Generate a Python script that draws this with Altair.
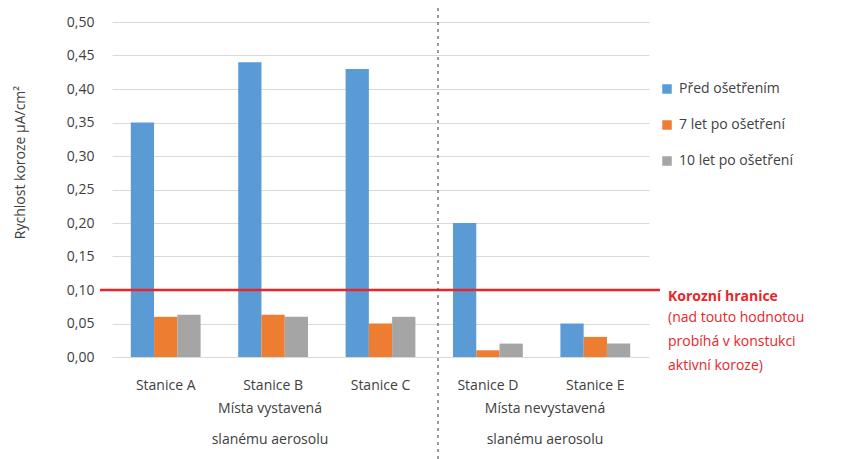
import altair as alt
import pandas as pd

stations = ["Stanice A", "Stanice B", "Stanice C", "Stanice D", "Stanice E"]
series = ["Před ošetřením", "7 let po ošetření", "10 let po ošetření"]
before = [0.35, 0.44, 0.43, 0.20, 0.05]
after7 = [0.06, 0.063, 0.05, 0.01, 0.03]
after10 = [0.063, 0.06, 0.06, 0.02, 0.02]
colors = ["#5B9BD5", "#ED7D31", "#A5A5A5"]
threshold = 0.10
y_ticks = [0.0, 0.05, 0.10, 0.15, 0.20, 0.25, 0.30, 0.35, 0.40, 0.45, 0.50]
y_title = "Rychlost koroze µA/cm²"
annot_head = "Korozní hranice"
annot_body = "(nad touto hodnotou\nprobíhá v konstukci\naktivní koroze)"
group_labels = ["Místa vystavená\nslanému aerosolu", "Místa nevystavená\nslanému aerosolu"]

rows = []
for i, st in enumerate(stations):
    for s, vals in zip(series, [before, after7, after10]):
        rows.append({"station": st, "series": s, "value": vals[i]})
df = pd.DataFrame(rows)

FONT = "Open Sans"
FS = 14
W, H = 537, 335
L, T = 112, 22

yscale = alt.Scale(domain=[0, 0.5])
yaxis = alt.Axis(title=y_title, values=y_ticks, labelOverlap=False,
                 labelExpr="replace(format(datum.value, '.2f'), '.', ',')",
                 labelFontSize=FS, labelColor="#404040", labelFont=FONT,
                 labelPadding=18, ticks=False, domain=False,
                 gridColor="#D9D9D9", gridWidth=1,
                 titleFontSize=FS, titleFont=FONT, titleFontWeight="normal",
                 titleColor="#404040", titleX=-92, titleY=140, titleAngle=270,
                 titleAlign="center", titleBaseline="middle")

bars = alt.Chart(df).mark_bar().encode(
    x=alt.X("station:N", sort=stations,
            scale=alt.Scale(paddingInner=0.35, paddingOuter=0.175),
            axis=alt.Axis(title=None, labelAngle=0, labelFontSize=FS, labelColor="#404040",
                          labelPadding=21, ticks=False, domain=False, labelFont=FONT)),
    xOffset=alt.XOffset("series:N", sort=series),
    y=alt.Y("value:Q", scale=yscale, axis=yaxis),
    color=alt.Color("series:N", sort=series,
                    scale=alt.Scale(domain=series, range=colors),
                    legend=alt.Legend(title=None, orient="none", legendX=548, legendY=60,
                                      symbolType="square", symbolSize=90, symbolStrokeWidth=0,
                                      labelFontSize=FS, labelFont=FONT, labelColor="#404040",
                                      rowPadding=22, labelOffset=5)),
)

red = alt.Chart(pd.DataFrame({"value": [threshold]})).mark_rule(color="#E8262A", strokeWidth=2.5).encode(
    y=alt.Y("value:Q", scale=yscale, axis=yaxis), x=alt.value(-12), x2=alt.value(548)
)

divider = alt.Chart(pd.DataFrame({"a": [0]})).mark_rule(
    color="#595959", strokeDash=[3, 4], strokeWidth=1.2
).encode(x=alt.value(326), y=alt.value(-14), y2=alt.value(437))

head = alt.Chart(pd.DataFrame({"t": [annot_head]})).mark_text(
    align="left", baseline="middle", color="#E8262A", fontSize=FS, fontWeight="bold", font=FONT
).encode(text="t:N", x=alt.value(556), y=alt.value(275))

body = alt.Chart(pd.DataFrame({"t": [annot_body]})).mark_text(
    align="left", baseline="top", color="#E8262A", fontSize=FS, font=FONT,
    lineBreak="\n", lineHeight=24
).encode(text="t:N", x=alt.value(556), y=alt.value(289))

groups = alt.Chart(pd.DataFrame({"t": group_labels, "x": [158, 433]})).mark_text(
    align="center", baseline="top", color="#404040", fontSize=FS, font=FONT,
    lineBreak="\n", lineHeight=31
).encode(text="t:N", x=alt.X("x:Q", scale=None), y=alt.value(380))

chart = alt.layer(bars, red, divider, head, body, groups).properties(
    width=W, height=H,
    padding={"left": L, "top": T, "right": 849 - L - W, "bottom": 459 - T - H},
    autosize="none",
    background="white",
).configure_view(stroke=None)

chart.save("out.html", embed_options={"renderer": "svg", "actions": False})
